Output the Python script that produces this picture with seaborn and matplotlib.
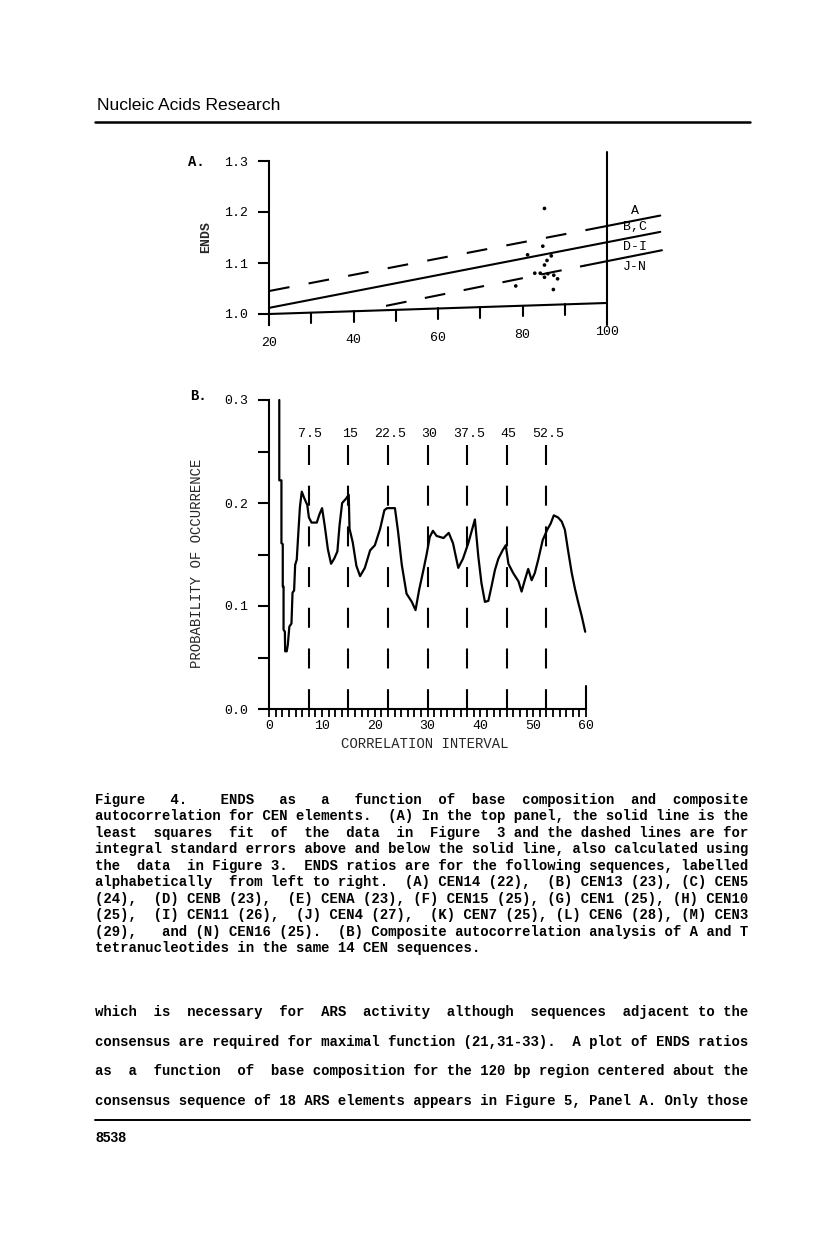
import re
import numpy as np
import matplotlib
matplotlib.use('Agg')
import matplotlib.pyplot as plt
import seaborn as sns

# ---------------- data ----------------
# Panel A: ENDS ratio vs % A+T for the 14 CEN elements
cen_at = [85.2, 84.8, 81.2, 86.8, 85.8, 85.2, 82.9, 84.2, 85.2, 87.4, 88.3, 78.4, 87.3, 86.0]
cen_ends = [1.207, 1.133, 1.116, 1.114, 1.105, 1.096, 1.080, 1.080, 1.072, 1.076, 1.069, 1.055, 1.048, 1.079]

# least squares fit (solid) and standard error lines (dashed, solid tails past 100)
fit_at = [20, 112.6]
fit_ends = [1.012, 1.161]
upper_at = [20, 95.3]
upper_ends = [1.045, 1.165]
upper_tail_at = [95.3, 112.6]
upper_tail_ends = [1.165, 1.193]
lower_at = [47.7, 94.8]
lower_ends = [1.016, 1.095]
lower_tail_at = [94.8, 113.0]
lower_tail_ends = [1.095, 1.125]

group_labels = ['A', 'B,C', 'D-I', 'J-N']
group_ends = [1.202, 1.171, 1.131, 1.092]

at_ticks = [20, 30, 40, 50, 60, 70, 80, 90, 100]
at_labels = ['20', '', '40', '', '60', '', '80', '', '100']
ends_ticks = [1.0, 1.1, 1.2, 1.3]
baseline_ends = [1.0, 1.0216]  # x axis of panel A is drawn slightly tilted

# Panel B: composite autocorrelation of A and T tetranucleotides
interval = [1.89, 1.89, 2.3, 2.3, 2.55, 2.55, 2.7, 2.7, 2.95, 3.0, 3.3, 3.5, 3.8, 4.2,
            4.4, 4.7, 4.9, 5.2, 5.5, 5.8, 6.15, 6.6, 7.2, 7.5, 8.0, 9.0, 9.5, 10.0,
            10.5, 11.1, 11.7, 12.3, 12.9, 13.3, 13.8, 14.5, 15.05, 15.2, 15.8, 16.5,
            17.2, 18.1, 19.1, 20.0, 21.0, 21.8, 22.3, 23.8, 24.4, 25.1, 26.0, 27.0,
            27.7, 28.4, 29.2, 29.8, 30.4, 31.0, 31.7, 33.0, 34.0, 34.8, 35.8, 36.7,
            37.7, 38.3, 38.95, 39.6, 40.2, 40.85, 41.5, 42.1, 42.75, 43.4, 44.2, 44.8,
            45.3, 46.2, 47.2, 47.8, 48.4, 49.05, 49.7, 50.3, 50.95, 51.8, 52.65, 53.3,
            53.9, 54.7, 55.4, 56.0, 56.6, 57.3, 57.9, 58.5, 59.2, 59.85]
prob = [0.300, 0.222, 0.222, 0.161, 0.160, 0.119, 0.119, 0.077, 0.075, 0.056, 0.056,
        0.062, 0.080, 0.083, 0.113, 0.115, 0.140, 0.145, 0.171, 0.196, 0.211, 0.205,
        0.198, 0.186, 0.181, 0.181, 0.189, 0.195, 0.178, 0.155, 0.141, 0.146, 0.153,
        0.178, 0.200, 0.204, 0.208, 0.175, 0.162, 0.139, 0.129, 0.137, 0.154, 0.159,
        0.175, 0.193, 0.195, 0.195, 0.172, 0.140, 0.112, 0.104, 0.096, 0.116, 0.135,
        0.150, 0.167, 0.173, 0.168, 0.166, 0.171, 0.161, 0.137, 0.146, 0.161, 0.172,
        0.184, 0.148, 0.122, 0.104, 0.105, 0.119, 0.135, 0.146, 0.154, 0.159, 0.141,
        0.132, 0.124, 0.114, 0.125, 0.136, 0.125, 0.132, 0.145, 0.164, 0.174, 0.180,
        0.188, 0.186, 0.182, 0.174, 0.154, 0.132, 0.117, 0.104, 0.090, 0.075]
period_marks = [7.5, 15, 22.5, 30, 37.5, 45, 52.5]
period_labels = ['7.5', '15', '22.5', '30', '37.5', '45', '52.5']
prob_ticks = [0.0, 0.05, 0.1, 0.15, 0.2, 0.25, 0.3]
prob_labels = ['0.0', '', '0.1', '', '0.2', '', '0.3']
interval_labels = [0, 10, 20, 30, 40, 50, 60]

# page text
header = 'Nucleic Acids Research'
page_number = '8538'
caption_lines = [
    'Figure 4.  ENDS as a function of base composition and composite',
    'autocorrelation for CEN elements.  (A) In the top panel, the solid line is the',
    'least squares fit of the data in Figure 3 and the dashed lines are for',
    'integral standard errors above and below the solid line, also calculated using',
    'the data in Figure 3.  ENDS ratios are for the following sequences, labelled',
    'alphabetically from left to right.  (A) CEN14 (22),  (B) CEN13 (23), (C) CEN5',
    '(24),  (D) CENB (23),  (E) CENA (23), (F) CEN15 (25), (G) CEN1 (25), (H) CEN10',
    '(25),  (I) CEN11 (26),  (J) CEN4 (27),  (K) CEN7 (25), (L) CEN6 (28), (M) CEN3',
    '(29),  and (N) CEN16 (25).  (B) Composite autocorrelation analysis of A and T',
    'tetranucleotides in the same 14 CEN sequences.',
]
body_lines = [
    'which is necessary for ARS activity although sequences adjacent to the',
    'consensus are required for maximal function (21,31-33).  A plot of ENDS ratios',
    'as a function of base composition for the 120 bp region centered about the',
    'consensus sequence of 18 ARS elements appears in Figure 5, Panel A. Only those',
]


def justify(line, width=78):
    parts = re.split(r'( +)', line)
    words = parts[0::2]
    gaps = [len(g) for g in parts[1::2]]
    extra = width - len(line)
    i = 0
    while extra > 0 and gaps:
        gaps[i % len(gaps)] += 1
        extra -= 1
        i += 1
    out = words[0]
    for g, w in zip(gaps, words[1:]):
        out += ' ' * g + w
    return out


sns.set_theme(style='white')
plt.rcParams['font.family'] = ['Liberation Mono', 'DejaVu Sans']
plt.rcParams['lines.scale_dashes'] = False
plt.rcParams['axes.linewidth'] = 1.5
plt.rcParams['text.color'] = 'black'
plt.rcParams['xtick.color'] = 'black'
plt.rcParams['ytick.color'] = 'black'

W, H = 816, 1233
fig = plt.figure(figsize=(W / 100, H / 100), dpi=100)
fig.patch.set_facecolor('white')

# page layer in pixel coordinates
page = fig.add_axes([0, 0, 1, 1])
page.set_xlim(0, W)
page.set_ylim(H, 0)
page.axis('off')

page.text(97, 110, header, family='Liberation Sans', fontsize=12.6, va='baseline')
page.plot([95, 750], [122, 122], color='black', lw=1.8)
page.plot([95, 750], [1120, 1120], color='black', lw=1.4)
page.text(95, 1142, page_number, family='Liberation Sans', fontsize=10,
          fontweight='bold', va='baseline')

mono = dict(family='Liberation Mono', fontsize=10.08, fontweight='bold', va='baseline')
for i, line in enumerate(caption_lines):
    txt = line if i == len(caption_lines) - 1 else justify(line)
    page.text(95, 804 + i * 16.44, txt, **mono)
for i, line in enumerate(body_lines):
    page.text(95, 1016 + i * 29.7, justify(line), **mono)

page.text(188, 162, 'A.', fontsize=10, fontweight='bold', va='center')
page.text(190, 396, 'B.', fontsize=10, fontweight='bold', va='center')

# ---------------- Panel A ----------------
axA = fig.add_axes([269 / W, 1 - 334.4 / H, 401.4 / W, 183.6 / H])
axA.set_facecolor('none')
axA.set_xlim(20, 115)
axA.set_ylim(0.96, 1.32)
for s in ['top', 'right', 'bottom']:
    axA.spines[s].set_visible(False)
axA.spines['left'].set_bounds(0.978, 1.3)
axA.spines['left'].set_color('black')
axA.set_xticks([])
axA.set_yticks(ends_ticks)
axA.set_yticklabels([f'{t:.1f}' for t in ends_ticks], fontsize=9.5)
axA.tick_params(axis='y', direction='out', length=8, width=1.5, pad=7, left=True)

# tilted x axis with hanging ticks
axA.plot([20, 100], baseline_ends, color='black', lw=1.5, clip_on=False)
for t, lab in zip(at_ticks, at_labels):
    y0 = np.interp(t, [20, 100], baseline_ends)
    if 20 < t < 100:
        axA.plot([t, t], [y0, y0 - 0.021], color='black', lw=1.5, clip_on=False)
    if lab:
        axA.text(t, y0 - 0.057, lab, ha='center', va='center', fontsize=9.5)
axA.plot([100, 100], [0.978, 1.318], color='black', lw=1.5, clip_on=False)

sns.lineplot(x=fit_at, y=fit_ends, color='black', lw=1.5, ax=axA, clip_on=False)
sns.lineplot(x=upper_at, y=upper_ends, color='black', lw=1.5, ax=axA,
             linestyle=(0, (15, 14)), clip_on=False)
sns.lineplot(x=lower_at, y=lower_ends, color='black', lw=1.5, ax=axA,
             linestyle=(0, (15, 13.5)), clip_on=False)
sns.lineplot(x=upper_tail_at, y=upper_tail_ends, color='black', lw=1.5, ax=axA, clip_on=False)
sns.lineplot(x=lower_tail_at, y=lower_tail_ends, color='black', lw=1.5, ax=axA, clip_on=False)
sns.scatterplot(x=cen_at, y=cen_ends, s=7, color='black', edgecolor='none', ax=axA)
for lab, y in zip(group_labels, group_ends):
    axA.text(106.6, y, lab, ha='center', va='center', fontsize=9.5)

axA.set_xlabel('% A+T', fontsize=9.5)
axA.xaxis.set_label_coords(0.369, -0.095)
axA.set_ylabel('ENDS', fontsize=9.5, fontweight='bold')
axA.yaxis.set_label_coords(-0.142, 0.53)

# ---------------- Panel B ----------------
axB = fig.add_axes([269.3 / W, 1 - 709 / H, 316.7 / W, 309 / H])
axB.set_facecolor('none')
axB.set_xlim(0, 60)
axB.set_ylim(0, 0.3)
for s in ['top', 'right']:
    axB.spines[s].set_visible(False)
for s in ['left', 'bottom']:
    axB.spines[s].set_color('black')
axB.set_yticks(prob_ticks)
axB.set_yticklabels(prob_labels, fontsize=9.5)
axB.set_xticks(interval_labels)
axB.set_xticklabels([str(v) for v in interval_labels], fontsize=9.5)
axB.set_xticks(np.arange(0, 60.01, 1.25), minor=True)
axB.tick_params(axis='y', direction='out', length=8, width=1.5, pad=7, left=True)
axB.tick_params(axis='x', which='both', direction='out', length=6, width=1.3, pad=2, bottom=True)
axB.plot([60, 60], [0, 0.022], color='black', lw=1.5, clip_on=False)

for xm, lab in zip(period_marks, period_labels):
    axB.plot([xm, xm], [0.2566, 0.0], color='black', lw=1.5, linestyle=(0, (14.4, 14.9)))
    axB.text(xm + 0.3, 0.267, lab, ha='center', va='center', fontsize=9.5)

sns.lineplot(x=interval, y=prob, sort=False, estimator=None, color='black', lw=1.6,
             ax=axB, clip_on=False)

axB.set_xlabel('CORRELATION INTERVAL', fontsize=10)
axB.xaxis.set_label_coords(0.4916, -0.092)
axB.set_ylabel('PROBABILITY OF OCCURRENCE', fontsize=10)
axB.yaxis.set_label_coords(-0.206, 0.472)

fig.savefig('out.png', dpi=100, facecolor='white')
